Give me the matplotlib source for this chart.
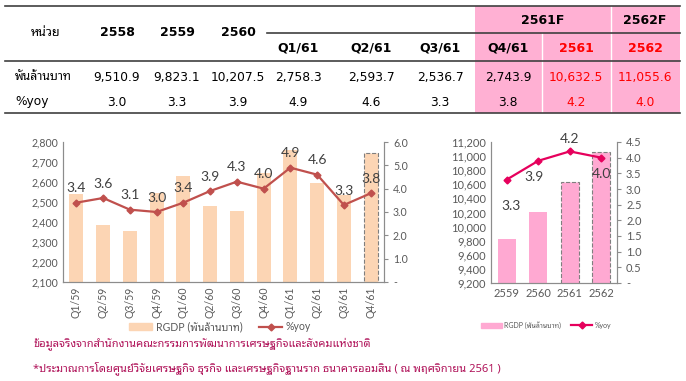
import matplotlib
matplotlib.use('Agg')
import matplotlib.pyplot as plt
from matplotlib.patches import Rectangle
from matplotlib.ticker import FuncFormatter, MultipleLocator
import numpy as np

# ตาราง
tbl_font = ['DejaVu Sans', 'Noto Sans Thai Looped']
chart_font = ['Lato', 'Noto Sans Thai Looped']
col_hdr = ['2558', '2559', '2560', 'Q1/61', 'Q2/61', 'Q3/61', 'Q4/61', '2561', '2562']
group_hdr = ['2561F', '2562F']
row_lbl = ['พันล้านบาท', '%yoy']
gdp_row = ['9,510.9', '9,823.1', '10,207.5', '2,758.3', '2,593.7', '2,536.7', '2,743.9', '10,632.5', '11,055.6']
yoy_row = ['3.0', '3.3', '3.9', '4.9', '4.6', '3.3', '3.8', '4.2', '4.0']

# กราฟรายไตรมาส
quarters = ['Q1/59', 'Q2/59', 'Q3/59', 'Q4/59', 'Q1/60', 'Q2/60', 'Q3/60', 'Q4/60',
            'Q1/61', 'Q2/61', 'Q3/61', 'Q4/61']
q_gdp = [2540, 2385, 2355, 2545, 2630, 2480, 2455, 2645, 2758.3, 2593.7, 2536.7, 2743.9]
q_yoy = [3.4, 3.6, 3.1, 3.0, 3.4, 3.9, 4.3, 4.0, 4.9, 4.6, 3.3, 3.8]

# กราฟรายปี
years = ['2559', '2560', '2561', '2562']
y_gdp = [9823.1, 10207.5, 10632.5, 11055.6]
y_yoy = [3.3, 3.9, 4.2, 4.0]

notes = ['ข้อมูลจริงจากสำนักงานคณะกรรมการพัฒนาการเศรษฐกิจและสังคมแห่งชาติ',
         '*ประมาณการโดยศูนย์วิจัยเศรษฐกิจ ธุรกิจ และเศรษฐกิจฐานราก ธนาคารออมสิน ( ณ พฤศจิกายน 2561 )']

W, H = 686, 381
fig = plt.figure(figsize=(W / 100, H / 100), dpi=100)

#พื้นหลังสำหรับตาราง (หน่วยเป็นพิกเซล)
bg = fig.add_axes([0, 0, 1, 1])
bg.set_xlim(0, W)
bg.set_ylim(H, 0)
bg.axis('off')

pink = '#FFB0D3'
bg.add_patch(Rectangle((475, 6), 205, 107, color=pink, lw=0))
bg.plot([542, 542], [33, 113], color='white', lw=1)
bg.plot([611, 611], [6, 113], color='white', lw=1)
for y0, x0 in [(6, 5), (61, 5), (113, 5), (33, 267)]:
    bg.plot([x0, 680], [y0, y0], color='#404040', lw=1.2)

col_x = [117, 177, 238, 298, 371, 440, 508, 576, 645]
tcol = ['black'] * 7 + ['red'] * 2
bg.text(46, 33, 'หน่วย', ha='center', va='center', fontsize=9, fontweight='bold', family=tbl_font)
for i, c in enumerate(col_hdr):
    yy = 33 if i < 3 else 48
    bg.text(col_x[i], yy, c, ha='center', va='center', fontsize=9, fontweight='bold',
            color=tcol[i], family=tbl_font)
bg.text(543, 21, group_hdr[0], ha='center', va='center', fontsize=9, fontweight='bold', family=tbl_font)
bg.text(645, 21, group_hdr[1], ha='center', va='center', fontsize=9, fontweight='bold', family=tbl_font)
for r, (lbl, row) in enumerate(zip(row_lbl, [gdp_row, yoy_row])):
    yy = 77 + r * 25
    bg.text(15, yy, lbl, ha='left', va='center', fontsize=8.8, family=tbl_font)
    for i, v in enumerate(row):
        bg.text(col_x[i], yy, v, ha='center', va='center', fontsize=8.8, color=tcol[i], family=tbl_font)

note_col = '#B0145A'
bg.text(33, 344, notes[0], ha='left', va='center', fontsize=8, color=note_col, family=['Noto Sans Thai Looped'])
bg.text(33, 368, notes[1], ha='left', va='center', fontsize=8, color=note_col, family=['Noto Sans Thai Looped'])

gray = '#595959'
spine_col = '#8C8C8C'


def style_axes(ax, ax2, size):
    for a in (ax, ax2):
        a.spines['top'].set_visible(False)
        for s in ['left', 'right', 'bottom']:
            a.spines[s].set_color(spine_col)
        a.tick_params(colors=gray, labelsize=size)
        for t in a.get_xticklabels() + a.get_yticklabels():
            t.set_family(chart_font)
    ax.tick_params(axis='y', length=0)
    ax.tick_params(axis='x', length=0)
    ax2.tick_params(axis='y', length=3, color=spine_col)


def yoy_fmt(v, pos):
    return '-' if abs(v) < 1e-9 else '%.1f' % v


# กราฟซ้าย
ax = fig.add_axes([63 / W, 1 - 282 / H, 321 / W, 140 / H])
x = np.arange(len(quarters))
ec = ['none'] * 11 + ['#7F7F7F']
ax.bar(x, q_gdp, width=0.52, color='#FCD5B4', edgecolor=ec, linestyle='--', lw=0.8,
       label='RGDP (พันล้านบาท)')
ax.set_ylim(2100, 2800)
ax.yaxis.set_major_locator(MultipleLocator(100))
ax.yaxis.set_major_formatter(FuncFormatter(lambda v, p: '{:,.0f}'.format(v)))
ax.set_xlim(-0.5, len(quarters) - 0.5)
ax.set_xticks(x)
ax.set_xticklabels(quarters, rotation=90)
ax2 = ax.twinx()
ax2.plot(x, q_yoy, color='#C0504D', lw=1.6, marker='D', ms=3.5, label='%yoy')
ax2.set_ylim(0, 6)
ax2.yaxis.set_major_locator(MultipleLocator(1))
ax2.yaxis.set_major_formatter(FuncFormatter(yoy_fmt))
for xi, v in zip(x, q_yoy):
    ax2.annotate('%.1f' % v, (xi, v), xytext=(0, 6), textcoords='offset points', ha='center',
                 va='bottom', fontsize=10, color='#404040', family=chart_font)
style_axes(ax, ax2, 7.6)
l1 = ax.get_legend_handles_labels()[1]
h2, l2 = ax2.get_legend_handles_labels()
bar_leg = Rectangle((0, 0), 1, 1, color='#FCD5B4')
fig.legend([bar_leg, h2[0]], [l1[0], l2[0]], loc='center', bbox_to_anchor=(220 / W, 1 - 327 / H),
           ncol=2, frameon=False, prop={'family': chart_font, 'size': 7.6}, handlelength=2.2,
           handleheight=0.6, columnspacing=1.6, handletextpad=0.3, labelcolor=gray)

# กราฟขวา
bx = fig.add_axes([491 / W, 1 - 283 / H, 126 / W, 141 / H])
xr = np.arange(len(years))
ec2 = ['none', 'none', '#7F7F7F', '#7F7F7F']
bx.bar(xr, y_gdp, width=0.58, color='#FFA9D2', edgecolor=ec2, linestyle='--', lw=0.8,
       label='RGDP (พันล้านบาท)')
bx.set_ylim(9200, 11200)
bx.yaxis.set_major_locator(MultipleLocator(200))
bx.yaxis.set_major_formatter(FuncFormatter(lambda v, p: '{:,.0f}'.format(v)))
bx.set_xlim(-0.5, len(years) - 0.5)
bx.set_xticks(xr)
bx.set_xticklabels(years)
bx2 = bx.twinx()
bx2.plot(xr, y_yoy, color='#E6005C', lw=1.6, marker='D', ms=3.5, label='%yoy')
bx2.set_ylim(0, 4.5)
bx2.yaxis.set_major_locator(MultipleLocator(0.5))
bx2.yaxis.set_major_formatter(FuncFormatter(yoy_fmt))
offs = [(3, -19), (-3, -12), (0, 9), (0, -12)]
for xi, v, o in zip(xr, y_yoy, offs):
    bx2.annotate('%.1f' % v, (xi, v), xytext=o, textcoords='offset points', ha='center',
                 va='center', fontsize=10, color='#404040', family=chart_font)
style_axes(bx, bx2, 8)
bar_leg2 = Rectangle((0, 0), 1, 1, color='#FFA9D2')
hb2 = bx2.get_legend_handles_labels()[0]
fig.legend([bar_leg2, hb2[0]], ['RGDP (พันล้านบาท)', '%yoy'], loc='center',
           bbox_to_anchor=(546 / W, 1 - 325 / H), ncol=2, frameon=False,
           prop={'family': chart_font, 'size': 5}, handlelength=3, handleheight=0.6,
           columnspacing=1.5, handletextpad=0.3, labelcolor=gray)

fig.savefig('out.png', dpi=100)
